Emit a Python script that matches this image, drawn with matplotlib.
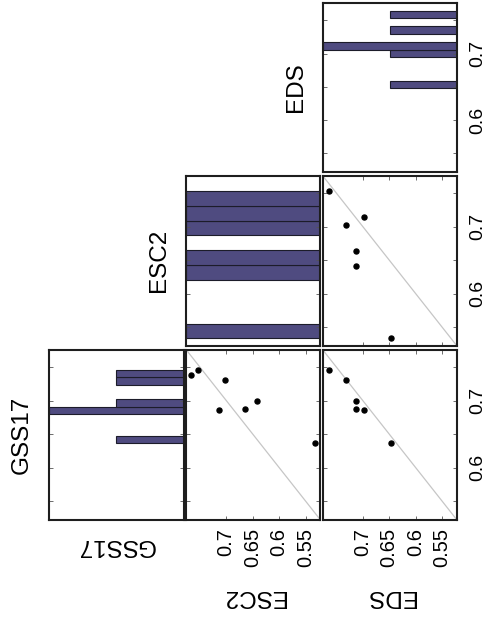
#/usr/bin/env python
'''
Scatter-plot matrix of the three agreement scores (GSS17, ESC2, EDS),
drawn turned on its side: histograms on the anti-diagonal, pairwise
scatter with a y=x reference line below it.
'''
import numpy as np
import matplotlib
matplotlib.use('Agg')
import matplotlib.pyplot as plt

# Constants
BIGFONT=17.5
MIDFONT=14.5
SMFONT=14
W, H = 488, 618

BAR_COLOR='#4f4b80'
EDGE_COLOR='#1c1c2a'
LINE_COLOR='#c6c6c6'

# ---------------- data ----------------
names = ['GSS17', 'ESC2', 'EDS']
gss17 = [0.7455, 0.7306, 0.6853, 0.6872, 0.6994, 0.6364, 0.7384]
esc2  = [0.7525, 0.7026, 0.7140, 0.6640, 0.6415, 0.5333, 0.7665]
eds   = [0.7646, 0.7310, 0.6980, 0.7120, 0.7130, 0.6475, np.nan]

lims = (0.522, 0.776)
hticks = [0.55, 0.60, 0.65, 0.70]
hticklabels = ['0.55', '0.6', '0.65', '0.7']
vticks = [0.55, 0.60, 0.65, 0.70, 0.75]
vticklabels = ['', '0.6', '', '0.7', '']

data = {'GSS17': np.array(gss17), 'ESC2': np.array(esc2), 'EDS': np.array(eds)}
# histograms only use the rows that are complete in all three scores
complete = ~np.isnan(data['EDS'])

col_vars = ['GSS17', 'ESC2', 'EDS']
row_vars = ['EDS', 'ESC2', 'GSS17']

# panel edges in pixels
cols = [(49, 183.5), (186, 320.5), (322.5, 457)]
rows = [(3, 172), (175.5, 346), (349.5, 520)]


def rect(c, r):
    x0, x1 = cols[c]
    y0, y1 = rows[r]
    return [x0/W, 1-y1/H, (x1-x0)/W, (y1-y0)/H]


plt.rcParams['font.family'] = ['Liberation Sans', 'DejaVu Sans']
fig = plt.figure(figsize=(W/100., H/100.), dpi=100)

for r in range(3):
    for c in range(3):
        if r + c < 2:
            continue
        ax = fig.add_axes(rect(c, r))
        for sp in ax.spines.values():
            sp.set_linewidth(1.5)
            sp.set_color('#1e1e1e')
        ax.set_ylim(lims)
        ax.set_yticks(vticks)
        ax.tick_params(direction='in', length=3, width=0.6, color='#555555',
                       left=True, right=True, top=True, bottom=True,
                       labelleft=False, labelbottom=False)

        if r + c == 2:
            # histogram of the diagonal variable, bars growing leftwards
            vals = data[col_vars[c]][complete]
            counts, edges = np.histogram(vals, bins=10)
            ax.barh(edges[:-1], counts, height=np.diff(edges), align='edge',
                    color=BAR_COLOR, edgecolor=EDGE_COLOR, linewidth=0.8)
            ax.set_xlim(counts.max(), 0)
            ax.set_xticks([])
            fig.text((cols[c][0]-16)/W, 1-(rows[r][0]+rows[r][1])/2./H,
                     col_vars[c], rotation=90, ha='right', va='center',
                     fontsize=BIGFONT)
        else:
            xv = data[col_vars[c]]
            yv = data[row_vars[r]]
            ax.plot(lims, lims, color=LINE_COLOR, lw=0.9, zorder=1)
            ax.plot(xv, yv, 'o', color='black', ms=3.6, mec='black', zorder=2)
            ax.set_xlim(lims[1], lims[0])
            ax.set_xticks(hticks)
            if r == 2:
                ax.set_xticklabels(hticklabels)
                ax.tick_params(labelbottom=True, labelrotation=90, axis='x',
                               pad=6, labelsize=MIDFONT)
                for lb in ax.get_xticklabels():
                    lb.set_va('top')

        if c == 2:
            ax.set_yticklabels(vticklabels)
            ax.tick_params(axis='y', labelright=True, labelrotation=90,
                           pad=9, labelsize=SMFONT)
            for lb in ax.get_yticklabels():
                lb.set_ha('left')
                lb.set_va('center')

# upside-down variable names along the bottom
fig.text(116/W, 1-545/H, 'GSS17', rotation=180, ha='center', va='center', fontsize=BIGFONT)
fig.text(253/W, 1-596/H, 'ESC2', rotation=180, ha='center', va='center', fontsize=BIGFONT)
fig.text(390/W, 1-596/H, 'EDS', rotation=180, ha='center', va='center', fontsize=BIGFONT)

plt.savefig('out.png', dpi=100)
plt.close('all')
